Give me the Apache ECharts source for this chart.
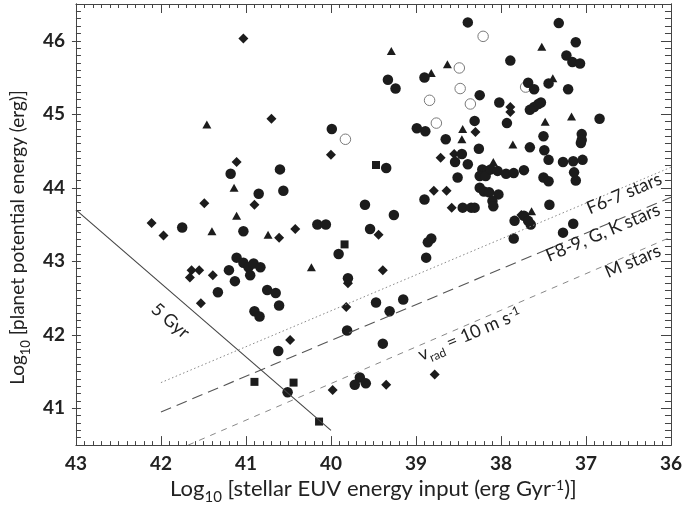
<!DOCTYPE html>
<html><head><meta charset="utf-8">
<script src="https://cdn.jsdelivr.net/npm/echarts@6/dist/echarts.min.js"></script>
<style>html,body{margin:0;padding:0;background:#fff}#c{width:685px;height:510px}</style>
</head><body><div id="c"></div>
<script>
// ---- data ----
const yMajorTicks = [41, 42, 43, 44, 45, 46];
const circles = [
[39.99,44.80],[41.18,44.19],[40.60,44.25],[40.85,43.92],[40.56,43.96],[41.75,43.46],[41.03,43.41],[40.16,43.50],[40.06,43.50],[39.91,43.10],
[41.11,43.05],[41.03,42.98],[40.97,42.92],[40.91,42.97],[40.83,42.92],[40.95,42.81],[41.20,42.88],[41.13,42.73],[41.33,42.58],[40.75,42.61],
[40.65,42.57],[40.61,42.40],[40.90,42.32],[40.84,42.25],[40.62,41.78],[40.51,41.22],
[39.35,44.27],[38.39,46.25],[38.90,45.50],[39.33,45.47],[39.24,45.35],[38.25,45.26],[38.02,45.16],[37.89,45.73],[38.31,44.91],[37.93,44.88],
[38.99,44.81],[38.89,44.77],[38.65,44.66],[38.26,44.53],[38.46,44.46],[38.54,44.35],[38.39,44.32],[38.51,44.14],[38.90,43.84],[38.45,43.73],
[38.35,43.73],[38.31,43.73],[38.25,44.00],[38.20,43.95],[38.14,43.94],[38.03,43.91],[38.10,43.82],[38.09,43.75],[39.60,43.77],[39.26,43.63],
[39.54,43.44],[38.82,43.31],[38.86,43.26],[38.88,43.05],[39.80,42.77],[39.47,42.44],[39.15,42.48],[39.31,42.32],[39.81,42.06],[39.39,41.88],
[39.66,41.42],[39.72,41.32],[39.59,41.34],
[37.32,46.24],[37.12,45.98],[37.23,45.80],[37.16,45.71],[37.07,45.69],[37.68,45.43],[37.61,45.34],[37.44,45.42],[37.21,45.34],[37.66,45.06],
[37.61,45.10],[37.56,45.14],[37.53,45.16],[36.84,44.94],[37.50,44.70],[37.05,44.73],[37.05,44.65],[37.06,44.61],[37.66,44.55],[37.49,44.51],
[37.44,44.38],[37.27,44.35],[37.15,44.36],[37.04,44.38],[37.14,44.21],[37.12,44.10],[37.50,44.14],[37.44,44.09],[38.22,44.25],[38.16,44.23],
[38.25,44.16],[38.18,44.16],[38.12,44.25],[38.04,44.23],[37.94,44.19],[37.85,44.20],[37.73,44.24],[37.43,43.77],[37.84,43.55],[37.73,43.62],
[37.68,43.55],[37.65,43.50],[37.85,43.31],[37.27,43.39],[37.15,43.51]
];
const diamonds = [
[41.03,46.03],[40.70,44.94],[40.00,44.45],[41.11,44.35],[41.49,43.79],[40.90,43.77],[42.11,43.52],[41.97,43.35],[40.61,43.32],[40.42,43.44],
[41.64,42.88],[41.55,42.88],[41.66,42.78],[41.39,42.81],[41.53,42.43],[40.48,41.93],[39.98,41.25],[38.30,44.76],[38.71,44.41],[38.55,44.46],
[38.79,43.96],[38.64,43.96],[38.58,43.73],[39.44,43.36],[39.39,42.88],[39.80,42.70],[39.82,42.38],[38.78,41.46],[39.35,41.32],[37.89,45.10],
[37.89,45.03],[37.76,43.63]
];
const triangles = [
[41.46,44.86],[41.14,44.00],[41.11,43.62],[41.40,43.41],[40.74,43.36],[40.23,42.92],[39.29,45.86],[38.63,45.68],[38.82,45.56],[38.45,44.80],
[38.46,44.66],[37.52,45.92],[37.39,45.49],[37.48,44.90],[37.17,44.97],[37.86,44.59],[38.09,44.35],[37.64,43.68]
];
const squares = [[39.84,43.23],[40.90,41.36],[40.44,41.35],[40.14,40.82],[39.47,44.31]];
const openCircles = [[39.83,44.66],[38.21,46.06],[38.49,45.63],[38.48,45.35],[38.84,45.19],[38.36,45.14],[38.76,44.88],[37.71,45.37]];
const gyrLine = [[43, 43.70], [40.0, 40.70]];
const f67Line = [[42, 41.35], [36, 44.28]];
const fgkLine = [[42, 40.95], [36, 43.87]];
const mLine = [[41.68, 40.5], [36, 43.33]];

// ---- chart ----
const FONT = 'Lato';
const chart = echarts.init(document.getElementById('c'), null, {renderer: 'canvas'});
const axisLine = {show: true, lineStyle: {color: '#444', width: 1}};
const xBase = {type: 'value', min: 36, max: 43, interval: 1, inverse: true, gridIndex: 0,
  splitLine: {show: false}, axisLine: axisLine,
  axisTick: {show: true, inside: true, length: 9, lineStyle: {color: '#444'}},
  minorTick: {show: true, splitNumber: 10, length: 4, lineStyle: {color: '#444'}}};
const yBase = {type: 'value', min: 40.5, max: 46.5, gridIndex: 0, splitLine: {show: false},
  axisLine: axisLine, axisLabel: {show: false}};
function richFor(size) {
  return {
    a: {fontFamily: FONT, fontSize: size, color: '#222'},
    s: {fontFamily: FONT, fontSize: Math.round(size * 0.66), color: '#222', verticalAlign: 'bottom',
        lineHeight: Math.round(size * 0.66), padding: [0, 0, -5, 0]},
    p: {fontFamily: FONT, fontSize: Math.round(size * 0.62), color: '#222', verticalAlign: 'top',
        lineHeight: Math.round(size * 0.62)}
  };
}
const option = {
  animation: false,
  backgroundColor: '#fff',
  grid: {left: 74, right: 11, top: 4, bottom: 61, containLabel: false},
  xAxis: [
    Object.assign({}, xBase, {position: 'bottom',
      axisLabel: {show: true, margin: 9, fontFamily: FONT, fontSize: 19, fontWeight: 'bold', color: '#222'},
      name: '{a|Log}{s|10}{a| [stellar EUV energy input (erg Gyr}{p|-1}{a|)]}',
      nameLocation: 'middle', nameGap: 29, nameTextStyle: {rich: richFor(22)}}),
    Object.assign({}, xBase, {position: 'top', axisLabel: {show: false}})
  ],
  yAxis: [
    Object.assign({}, yBase, {position: 'left', interval: 0.1,
      axisTick: {show: true, inside: true, length: 5, lineStyle: {color: '#444'}}}),
    Object.assign({}, yBase, {position: 'left',
      axisTick: {show: true, inside: false, length: 4, customValues: yMajorTicks, lineStyle: {color: '#444'}},
      axisLabel: {show: true, customValues: yMajorTicks, margin: 11, fontFamily: FONT, fontSize: 19, fontWeight: 'bold', color: '#222'},
      name: '{a|Log}{s|10}{a| [planet potential energy (erg)]}',
      nameLocation: 'middle', nameGap: 44, nameTextStyle: {rich: richFor(19), padding: [0, 26, 0, 0]}}),
    Object.assign({}, yBase, {position: 'right', interval: 0.1,
      axisTick: {show: true, inside: true, length: 6, lineStyle: {color: '#444'}}}),
    Object.assign({}, yBase, {position: 'right',
      axisTick: {show: true, inside: true, length: 10, customValues: yMajorTicks, lineStyle: {color: '#444'}}})
  ],
  series: [
    {type: 'line', data: gyrLine, symbol: 'none', silent: true, lineStyle: {color: '#444', width: 1.1}},
    {type: 'line', data: f67Line, symbol: 'none', silent: true, lineStyle: {color: '#888', width: 1, type: [1.5, 2.5]}},
    {type: 'line', data: fgkLine, symbol: 'none', silent: true, lineStyle: {color: '#555', width: 1.1, type: [11, 6]}},
    {type: 'line', data: mLine, symbol: 'none', silent: true, lineStyle: {color: '#888', width: 1, type: [6, 6]}},
    {type: 'scatter', data: openCircles, symbol: 'circle', symbolSize: 10.5,
      itemStyle: {color: '#fff', borderColor: '#7a7a7a', borderWidth: 1, opacity: 1}},
    {type: 'scatter', data: squares, symbol: 'rect', symbolSize: 8, itemStyle: {color: '#1c1c1c', opacity: 1}},
    {type: 'scatter', data: triangles, symbol: 'triangle', symbolSize: [9, 8], itemStyle: {color: '#1c1c1c', opacity: 1}},
    {type: 'scatter', data: diamonds, symbol: 'diamond', symbolSize: 10, itemStyle: {color: '#1c1c1c', opacity: 1}},
    {type: 'scatter', data: circles, symbol: 'circle', symbolSize: 10.5, itemStyle: {color: '#1c1c1c', opacity: 1}}
  ]
};
chart.setOption(option);

// ---- annotations ----
const P = (x, y) => chart.convertToPixel({gridIndex: 0}, [x, y]);
const deg = Math.PI / 180;
const txt = {fontFamily: FONT, fontSize: 18, fill: '#222', align: 'center', verticalAlign: 'middle'};
function label(pos, rot, style) {
  const p = P(pos[0], pos[1]);
  return {type: 'text', x: p[0], y: p[1], rotation: rot * deg, silent: true, z: 100,
    style: Object.assign({}, txt, style)};
}
chart.setOption({graphic: [
  label([41.89, 42.19], -40.5, {text: '5 Gyr'}),
  label([36.55, 43.92], 23, {text: 'F6-7 stars'}),
  label([36.80, 43.39], 23, {text: 'F8-9, G, K stars'}),
  label([36.45, 43.00], 23, {text: 'M stars'}),
  label([38.37, 42.01], 23, {text: '{v|v}{s|rad}{v| = 10 m s}{p|-1}', rich: {
    v: {fontFamily: FONT, fontSize: 18, fill: '#222'},
    s: {fontFamily: FONT, fontSize: 12, fill: '#222', verticalAlign: 'bottom', lineHeight: 12, padding: [0,0,-4,0]},
    p: {fontFamily: FONT, fontSize: 12, fill: '#222', verticalAlign: 'top', lineHeight: 12}
  }})
]});
</script>
</body></html>
